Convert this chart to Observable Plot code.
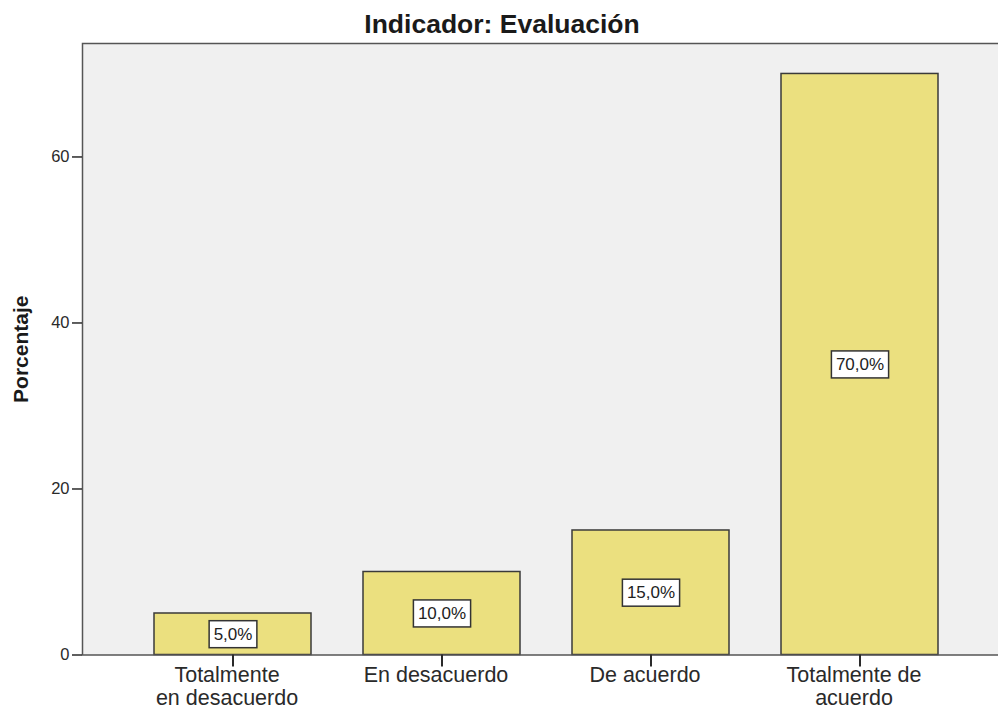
<!DOCTYPE html>
<html><head><meta charset="utf-8">
<script src="https://cdn.jsdelivr.net/npm/d3@7"></script>
<script src="https://cdn.jsdelivr.net/npm/@observablehq/plot@0.6"></script>
<style>
html,body{margin:0;padding:0;background:#fff;overflow:hidden;width:998px;height:712px}
#title{height:38px;box-sizing:border-box;padding-top:11px;padding-left:6px;text-align:center;font:bold 26.5px "Liberation Sans",Arial,sans-serif;line-height:26px;color:#1a1a1a;white-space:nowrap}
</style></head><body>
<div id="title">Indicador: Evaluación</div>
<div id="chart"></div>
<script>
const categories = ["Totalmente en desacuerdo", "En desacuerdo", "De acuerdo", "Totalmente de acuerdo"];
const tickLabels = ["Totalmente\nen desacuerdo", "En desacuerdo", "De acuerdo", "Totalmente de\nacuerdo"];
const percentages = [5, 10, 15, 70];
const yTicks = [0, 20, 40, 60];
const yMax = 73.67;
const yLabel = "Porcentaje";

const data = categories.map((c, i) => ({cat: c, pct: percentages[i]}));
const fmt = v => v.toFixed(1).replace(".", ",") + "%";

const plot = Plot.plot({
  width: 998, height: 674,
  marginTop: 5, marginBottom: 57.5, marginLeft: 82, marginRight: -12,
  style: {fontFamily: "'Liberation Sans', Arial, sans-serif", fontSize: "16px", color: "#2a2a2a", background: "#fff"},
  x: {domain: categories, paddingInner: 0.25, paddingOuter: 0.34},
  y: {domain: [0, yMax]},
  marks: [
    Plot.frame({fill: "#f0f0f0", stroke: "none"}),
    Plot.barY(data, {x: "cat", y: "pct", fill: "#ebe07f", stroke: "#3a3a3a", strokeWidth: 1.5}),
    Plot.frame({stroke: "#555", strokeWidth: 1.5}),
    Plot.axisY({ticks: yTicks, tickSize: 10, tickPadding: 3, fontSize: 16.5, label: null, strokeWidth: 1.5}),
    Plot.axisX({tickSize: 12, label: null, tickFormat: () => "", strokeWidth: 2}),
    Plot.axisX({tickSize: 0, tickPadding: 10, fontSize: 21.5, lineHeight: 1.1, label: null, dx: -6,
      tickFormat: d => tickLabels[categories.indexOf(d)]}),
    Plot.text(data, {x: "cat", y: d => d.pct / 2, text: d => fmt(d.pct), fontSize: 17, fill: "#222"}),
    Plot.text([yLabel], {frameAnchor: "left", textAnchor: "middle", dx: -61, rotate: -90, fontSize: 21, fontWeight: "bold", fill: "#1a1a1a"})
  ]
});
document.getElementById("chart").appendChild(plot);

const labelSet = new Set(percentages.map(fmt));
d3.select(plot).selectAll("text").filter(function() { return labelSet.has(this.textContent); }).each(function() {
  const b = this.getBBox();
  const r = document.createElementNS("http://www.w3.org/2000/svg", "rect");
  const px = 4.5, py = 4;
  r.setAttribute("x", b.x - px);
  r.setAttribute("y", b.y - py);
  r.setAttribute("width", b.width + 2 * px);
  r.setAttribute("height", b.height + 2 * py);
  r.setAttribute("fill", "#fff");
  r.setAttribute("stroke", "#333");
  r.setAttribute("stroke-width", "1.5");
  const t = this.getAttribute("transform");
  if (t) r.setAttribute("transform", t);
  this.parentNode.insertBefore(r, this);
});
</script>
</body></html>
